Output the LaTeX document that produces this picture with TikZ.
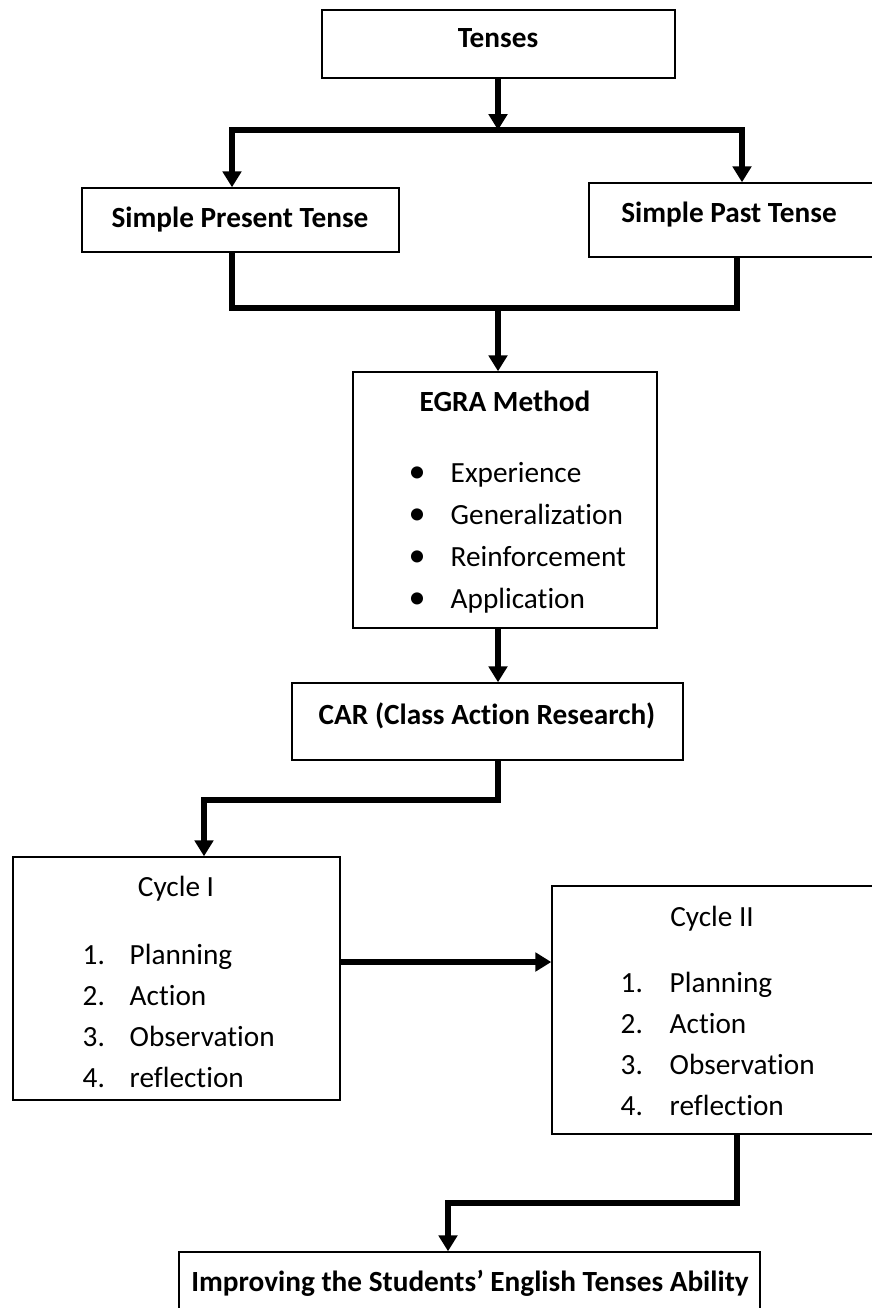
\documentclass[tikz,border=0pt]{standalone}
\usepackage{fontspec}
\setmainfont{Carlito}[Ligatures=NoCommon]
\usetikzlibrary{arrows.meta,fit}
\begin{document}
\begin{tikzpicture}[x=0.41pt,y=-0.41pt,line width=0.6pt,
  every node/.style={font=\fontsize{12pt}{14pt}\selectfont,inner sep=0pt},
  box/.style={draw,fit={#1}},
  head/.style={font=\fontsize{12pt}{14pt}\selectfont\bfseries,anchor=base},
  item/.style={anchor=base west},
  link/.style={line width=2.5pt},
  flow/.style={line width=2.5pt,-{Triangle[length=6.5pt,width=7.5pt]}}]
\useasboundingbox (0,0) rectangle (871,1308);
\node[box={(322,10) (675,78)}] (tenses) {};
\node[box={(82,188) (399,252)}] (present) {};
\node[box={(589,183) (873,257)}] (past) {};
\node[box={(353,372) (657,628)}] (egra) {};
\node[box={(292,683) (683,760)}] (car) {};
\node[box={(13,857) (340,1100)}] (cyc1) {};
\node[box={(552,886) (873,1134)}] (cyc2) {};
\node[box={(179,1252) (760,1325)}] (ending) {};
\node[head] (tensesT) at (498,48) {Tenses};
\node[head] (presentT) at (240,227) {Simple Present Tense};
\node[head] (pastT) at (729,222) {Simple Past Tense};
\node[head] (egraT) at (505,411) {EGRA Method};
\foreach \t [count=\i] in {Experience,Generalization,Reinforcement,Application}{
  \node[anchor=base] (egraB\i) at (417,{440+42*\i}) {\fontsize{14pt}{14pt}\selectfont\textbullet};
  \node[item] (egra\i) at (450,{440+42*\i}) {\t};
}
\node[head] (carT) at (487,724) {CAR (Class Action Research)};
\node[anchor=base] (cyc1T) at (176,896) {Cycle I};
\node[anchor=base] (cyc2T) at (712,926) {Cycle II};
\foreach \t [count=\i] in {Planning,Action,Observation,reflection}{
  \node[item] (cyc1N\i) at (82,{923+41*\i}) {\i.};
  \node[item] (cyc1I\i) at (129,{923+41*\i}) {\t};
  \node[item] (cyc2N\i) at (620,{951+41*\i}) {\i.};
  \node[item] (cyc2I\i) at (669,{951+41*\i}) {\t};
}
\node[head] (endingT) at (470,1291) {Improving the Students’ English Tenses Ability};
\coordinate (b1) at (498,130);
\coordinate (b1l) at (232,130);
\coordinate (b1r) at (742,130);
\coordinate (b2) at (498,308);
\coordinate (b2l) at (232,308);
\coordinate (b2r) at (737,308);
\coordinate (b3) at (498,800);
\coordinate (b3l) at (204,800);
\coordinate (c12) at (0,962);
\coordinate (b4) at (737,1203);
\coordinate (b4l) at (448,1203);
\draw[flow] (tenses.south -| b1) -- (b1);
\draw[link,line cap=rect] (b1l) -- (b1r);
\draw[flow] (b1l) -- (b1l |- present.north);
\draw[flow] (b1r) -- (b1r |- past.north);
\draw[link] (b2l |- present.south) -- (b2l) -- (b2r) -- (b2r |- past.south);
\draw[flow] (b2) -- (b2 |- egra.north);
\draw[flow] (egra.south -| b2) -- (b2 |- car.north);
\draw[flow] (car.south -| b3) -- (b3) -- (b3l) -- (b3l |- cyc1.north);
\draw[flow] (cyc1.east |- c12) -- (cyc2.west |- c12);
\draw[flow] (cyc2.south -| b4) -- (b4) -- (b4l) -- (b4l |- ending.north);
\end{tikzpicture}
\end{document}
